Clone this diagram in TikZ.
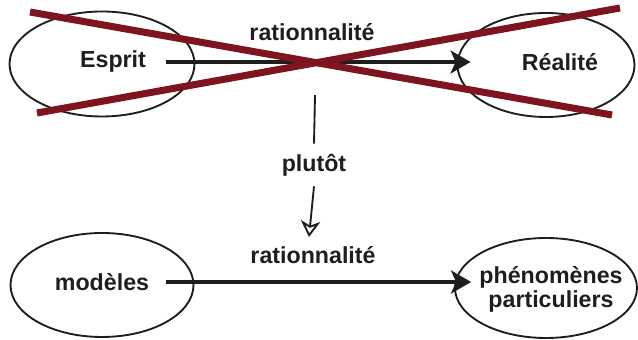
\documentclass[tikz,border=0pt]{standalone}
\usepackage{fontspec}
\setmainfont{Liberation Sans}
\usepackage{xcolor}
\usepackage{tikz}
\usetikzlibrary{arrows.meta, positioning, shapes.geometric, calc}
\definecolor{crossRed}{RGB}{125,20,32}
\definecolor{inkBlack}{RGB}{30,30,30}

\begin{document}
\begin{tikzpicture}[
    oval/.style={ellipse, draw=inkBlack, line width=1.6pt, inner sep=0pt},
    word/.style={font=\fontsize{19.8}{20.5}\selectfont\bfseries, text=inkBlack,
        inner sep=0pt, align=center},
    arrow/.style={-{Stealth[length=0.6cm, width=0.69cm, inset=0.15cm]},
        line width=3pt, inkBlack},
    hint/.style={-{Stealth[open, length=0.48cm, width=0.58cm, inset=0.14cm]},
        line width=1.6pt, inkBlack},
    cross/.style={line width=6pt, crossRed}
]
\useasboundingbox (0,0) rectangle (19.14,10.2);
\node[oval, minimum width=5.55cm, minimum height=3.15cm] (esprit) at (3.06, 8.28) {};
\node[oval, minimum width=5.31cm, minimum height=3.12cm] (realite) at (16.38, 8.25) {};
\node[oval, minimum width=5.49cm, minimum height=3.12cm] (modeles) at (3.06, 1.65) {};
\node[oval, minimum width=5.46cm, minimum height=3.0cm] (phenomenes) at (16.38, 1.56) {};
\node[word] (esprittxt) at (3.39, 8.34) {Esprit};
\node[word] (realitetxt) at (16.8, 8.34) {Réalité};
\node[word] (modelestxt) at (3.06, 1.74) {modèles};
\node[word] (phenomenestxt) at (16.53, 1.53) {phénomènes\\particuliers};
\node[word] (ratiohaut) at (9.36, 9.24) {rationnalité};
\node[word] (ratiobas) at (9.39, 2.55) {rationnalité};
\node[word] (plutot) at (9.42, 5.25) {plutôt};
\coordinate (hintstart) at (9.45, 7.35);
\coordinate (hintend) at (9.27, 3.09);

\draw[arrow, shorten <=0.6cm, shorten >=-0.42cm]
    (esprittxt.east) -- (esprittxt.east -| realite.west);
\draw[arrow, shorten <=0.51cm, shorten >=-0.51cm]
    (modelestxt.east) -- (modelestxt.east -| phenomenes.west);
\draw[line width=1.6pt, inkBlack] (hintstart) -- ([yshift=0.3cm]plutot.north);
\draw[hint] ([yshift=-0.3cm]plutot.south) -- (hintend);

% the crossed-out relation
\draw[cross] (0.9, 9.84) -- (18.36, 6.75);
\draw[cross] (1.11, 6.81) -- (18.6, 9.96);
\end{tikzpicture}
\end{document}
